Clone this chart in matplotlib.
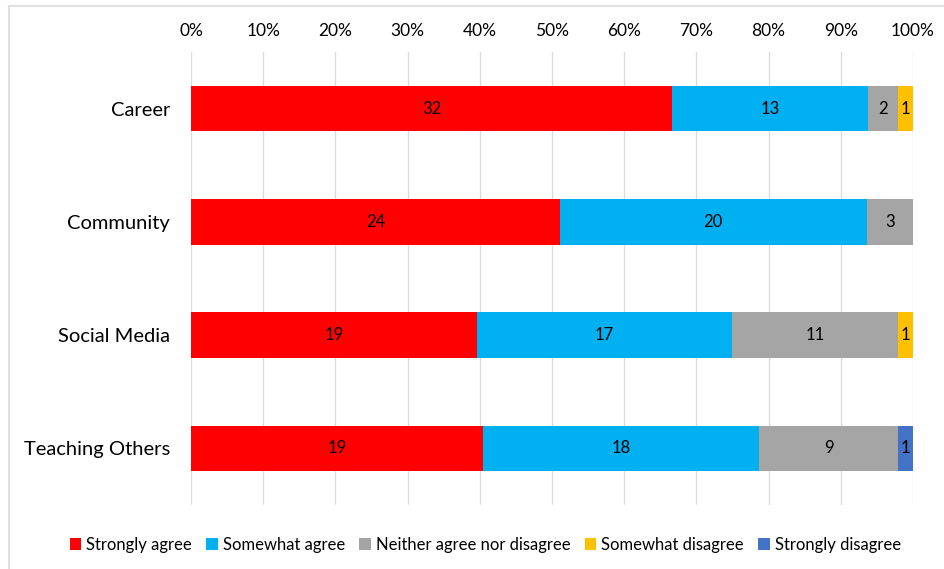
import matplotlib.pyplot as plt
import numpy as np
from matplotlib.patches import Rectangle

plt.rcParams['font.family'] = ['Lato', 'DejaVu Sans']

# Daten
categories = ['Career', 'Community', 'Social Media', 'Teaching Others']
series_names = ['Strongly agree', 'Somewhat agree', 'Neither agree nor disagree',
                'Somewhat disagree', 'Strongly disagree']
strongly_agree = [32, 24, 19, 19]
somewhat_agree = [13, 20, 17, 18]
neither = [2, 3, 11, 9]
somewhat_disagree = [1, 0, 1, 0]
strongly_disagree = [0, 0, 0, 1]
tick_labels = ['0%', '10%', '20%', '30%', '40%', '50%', '60%', '70%', '80%', '90%', '100%']

colors = ['#FF0000', '#00B0F0', '#A5A5A5', '#FFC000', '#4472C4']

series = np.array([strongly_agree, somewhat_agree, neither,
                   somewhat_disagree, strongly_disagree], dtype=float)
totals = series.sum(axis=0)
shares = series / totals

fig = plt.figure(figsize=(9.44, 5.69), dpi=100)
ax = fig.add_axes([191 / 944, 1 - 505 / 569, (913 - 191) / 944, (505 - 52) / 569])

# Rahmen um das Diagramm
fig.patches.append(Rectangle((9 / 944, -0.05), 1.0, 1 - 6 / 569 + 0.05,
                             transform=fig.transFigure, fill=False,
                             edgecolor='#D9DCE3', linewidth=1.2))

y = np.arange(len(categories))
left = np.zeros(len(categories))
for i, name in enumerate(series_names):
    bars = ax.barh(y, shares[i], left=left, height=0.4, color=colors[i],
                   label=name, zorder=3)
    for j, b in enumerate(bars):
        if series[i][j] > 0:
            ax.text(left[j] + shares[i][j] / 2, y[j], f'{int(series[i][j])}',
                    ha='center', va='center', fontsize=12, color='black', zorder=4)
    left += shares[i]

ax.set_xlim(0, 1)
ax.set_ylim(len(categories) - 0.5, -0.5)
ax.set_yticks(y)
ax.set_yticklabels(categories, fontsize=14.5)
ax.set_xticks(np.linspace(0, 1, 11))
ax.set_xticklabels(tick_labels, fontsize=12.5)
ax.xaxis.tick_top()
ax.tick_params(axis='both', length=0)
ax.tick_params(axis='x', pad=9)
ax.tick_params(axis='y', pad=15)
ax.grid(axis='x', color='#D9DCE3', linewidth=1, zorder=0)
for s in ax.spines.values():
    s.set_visible(False)

fig.legend(loc='center', bbox_to_anchor=(0.514, 1 - 545 / 569), ncol=5, frameon=False,
           fontsize=12, handlelength=0.7, handleheight=0.7, handletextpad=0.3,
           columnspacing=0.85)

fig.savefig('out.png', dpi=100)
